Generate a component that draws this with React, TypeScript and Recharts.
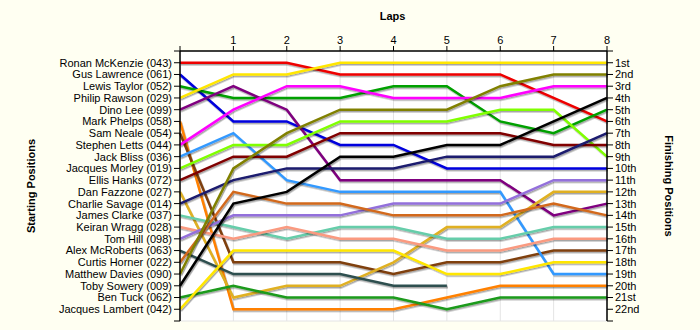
import { LineChart, Line, XAxis, YAxis, CartesianGrid } from "recharts";

// laps on the top axis
const laps = [0, 1, 2, 3, 4, 5, 6, 7, 8];

const startNames = [
  "Ronan McKenzie (043)",
  "Gus Lawrence (061)",
  "Lewis Taylor (052)",
  "Philip Rawson (029)",
  "Dino Lee (099)",
  "Mark Phelps (058)",
  "Sam Neale (054)",
  "Stephen Letts (044)",
  "Jack Bliss (036)",
  "Jacques Morley (019)",
  "Ellis Hanks (072)",
  "Dan Fazzone (027)",
  "Charlie Savage (014)",
  "James Clarke (037)",
  "Keiran Wragg (028)",
  "Tom Hill (098)",
  "Alex McRoberts (063)",
  "Curtis Horner (022)",
  "Matthew Davies (090)",
  "Toby Sowery (009)",
  "Ben Tuck (062)",
  "Jacques Lambert (042)",
];

const finishLabels = [
  "1st", "2nd", "3rd", "4th", "5th", "6th", "7th", "8th", "9th", "10th", "11th",
  "12th", "13th", "14th", "15th", "16th", "17th", "18th", "19th", "20th", "21st", "22nd",
];

// position of each driver at laps 0..8
const ronan = [1, 1, 1, 2, 2, 2, 2, 4, 6];
const gus = [2, 6, 6, 8, 8, 10, 10, 10, 10];
const lewis = [3, 4, 4, 4, 3, 3, 6, 7, 5];
const philip = [4, 2, 2, 1, 1, 1, 1, 1, 1];
const dino = [5, 3, 5, 11, 11, 11, 11, 14, 13];
const mark = [6, 22, 22, 22, 22, 21, 20, 20, 20];
const sam = [7, 18, 18, 18, 19, 18, 18, 17, 17];
const stephen = [8, 5, 3, 3, 4, 4, 4, 3, 3];
const jack = [9, 7, 11, 12, 12, 12, 12, 19, 19];
const jacquesM = [10, 8, 8, 6, 6, 6, 5, 5, 9];
const ellis = [11, 9, 9, 7, 7, 7, 7, 8, 8];
const dan = [12, 21, 20, 20, 18, 15, 15, 12, 12];
const charlie = [13, 11, 10, 10, 10, 9, 9, 9, 7];
const james = [14, 15, 16, 15, 15, 16, 16, 15, 15];
const keiran = [15, 16, 15, 16, 16, 17, 17, 16, 16];
const tom = [16, 14, 14, 14, 13, 13, 13, 11, 11];
const alex = [17, 19, 19, 19, 20, 20]; // retired after lap 5
const curtis = [18, 12, 13, 13, 14, 14, 14, 13, 14];
const matthew = [19, 10, 7, 5, 5, 5, 3, 2, 2];
const toby = [20, 13, 12, 9, 9, 8, 8, 6, 4];
const ben = [21, 20, 21, 21, 21, 22, 21, 21, 21];
const jacquesL = [22, 17, 17, 17, 17, 19, 19, 18, 18];

const positions = [
  ronan, gus, lewis, philip, dino, mark, sam, stephen, jack, jacquesM, ellis,
  dan, charlie, james, keiran, tom, alex, curtis, matthew, toby, ben, jacquesL,
];

const lineColors = [
  "#EE0000", "#0000DD", "#00A000", "#FFE600", "#7F007F", "#FF8000",
  "#7F3F0F", "#FF00FF", "#3399FF", "#80FF00", "#800000", "#E0B020",
  "#1A1A6E", "#66CDAA", "#FA9A80", "#9370DB", "#2F4F4F", "#D2691E",
  "#808000", "#000000", "#1A9A1A", "#FFE600",
];

const positionTicks = Array.from({ length: 24 }, (_, i) => i);

const data = laps.map((lap, i) => {
  const row: Record<string, number | null> = { lap };
  positions.forEach((p, d) => {
    row[`d${d}`] = p[i] ?? null;
  });
  return row;
});

const FONT = '"Liberation Sans", Arial, sans-serif';
const TICK = { fill: "#000", fontSize: 11, fontFamily: FONT };

export default function App() {
  return (
    <div style={{ position: "relative", width: 700, height: 330, background: "#FFFFF2", fontFamily: FONT }}>
      <style>{`body{margin:0} .recharts-line-curve{filter:url(#lineShadow)}`}</style>
      <LineChart width={700} height={330} data={data} margin={{ top: 21, right: 0, bottom: 9, left: 0 }}>
        <defs>
          <filter id="lineShadow" x="-5%" y="-5%" width="110%" height="120%">
            <feDropShadow dx="1" dy="1.5" stdDeviation="0.5" floodColor="#000" floodOpacity="0.35" />
          </filter>
        </defs>
        <CartesianGrid stroke="#E4E4E4" fill="#FFFFFF" />
        <XAxis
          dataKey="lap"
          type="number"
          orientation="top"
          domain={[0, 8]}
          ticks={laps}
          height={30}
          tick={TICK}
          tickSize={5}
          tickFormatter={(v: number) => (v === 0 ? "" : String(v))}
          axisLine={{ stroke: "#000", strokeWidth: 1.5 }}
          tickLine={{ stroke: "#000" }}
        />
        <YAxis
          yAxisId="left"
          type="number"
          domain={[0, 23]}
          reversed
          ticks={positionTicks}
          interval={0}
          width={180}
          tick={TICK}
          tickSize={6}
          tickFormatter={(v: number) => startNames[v - 1] ?? ""}
          axisLine={{ stroke: "#000", strokeWidth: 1.5 }}
          tickLine={{ stroke: "#000" }}
        />
        <YAxis
          yAxisId="right"
          orientation="right"
          type="number"
          domain={[0, 23]}
          reversed
          ticks={positionTicks}
          interval={0}
          width={93}
          tick={TICK}
          tickSize={6}
          tickFormatter={(v: number) => finishLabels[v - 1] ?? ""}
          axisLine={{ stroke: "#000", strokeWidth: 1.5 }}
          tickLine={{ stroke: "#000" }}
        />
        {/* invisible copy so the finishing-position axis has a series bound to it */}
        <Line
          yAxisId="right"
          type="linear"
          dataKey="d0"
          stroke="none"
          dot={false}
          activeDot={false}
          legendType="none"
          isAnimationActive={false}
        />
        {positions.map((_, d) => (
          <Line
            key={d}
            yAxisId="left"
            type="linear"
            dataKey={`d${d}`}
            stroke={lineColors[d]}
            strokeWidth={2.5}
            dot={false}
            activeDot={false}
            isAnimationActive={false}
          />
        ))}
      </LineChart>
      <div style={{ position: "absolute", left: 0, width: 785, top: 10, textAlign: "center", fontSize: 11, fontWeight: "bold" }}>
        Laps
      </div>
      <div
        style={{
          position: "absolute", left: 31, top: 186, fontSize: 11, fontWeight: "bold", whiteSpace: "nowrap",
          transform: "translate(-50%, -50%) rotate(-90deg)",
        }}
      >
        Starting Positions
      </div>
      <div
        style={{
          position: "absolute", left: 669, top: 186, fontSize: 11, fontWeight: "bold", whiteSpace: "nowrap",
          transform: "translate(-50%, -50%) rotate(90deg)",
        }}
      >
        Finishing Positions
      </div>
    </div>
  );
}
